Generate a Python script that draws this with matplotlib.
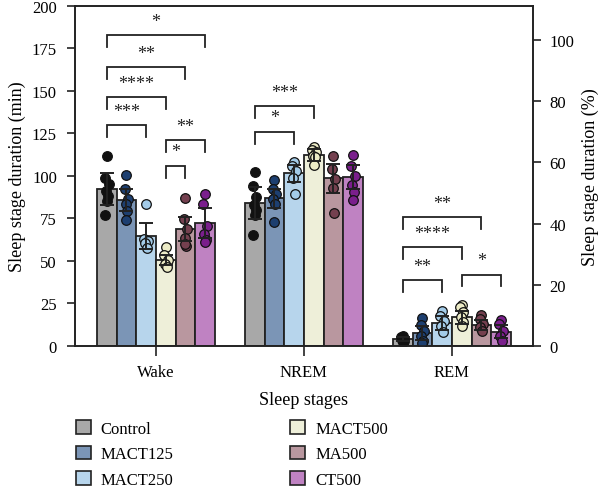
import matplotlib
matplotlib.use("Agg")
import matplotlib.pyplot as plt
from matplotlib.patches import Patch
import numpy as np

plt.rcParams['font.family'] = ['Liberation Serif', 'DejaVu Serif']

stages = ["Wake", "NREM", "REM"]
groups = ["Control", "MACT125", "MACT250", "MACT500", "MA500", "CT500"]

bar_colors = ["#a8a8a8", "#7b95b6", "#b7d5ec", "#eeefd9", "#b9979f", "#bf82c2"]
pt_colors = ["#111111", "#1d3f70", "#a3cbe8", "#ecebc6", "#74404f", "#7a1f8c"]

means = {
    "Wake": [92.4, 86.0, 64.7, 50.6, 68.8, 72.4],
    "NREM": [84.1, 87.0, 101.6, 112.4, 98.6, 99.6],
    "REM":  [4.1, 7.6, 13.5, 16.9, 12.4, 8.4],
}
sds = {
    "Wake": [9.2, 6.5, 7.5, 3.0, 7.0, 9.0],
    "NREM": [9.2, 5.6, 4.9, 3.5, 8.5, 7.1],
    "REM":  [1.2, 4.0, 4.0, 3.9, 3.0, 3.8],
}
points = {
    "Wake": [
        [112, 99, 95, 91, 88, 85, 77],
        [100.6, 92.4, 86.5, 83.5, 79.6, 74.3],
        [83.5, 63, 61.5, 60.4, 57.6],
        [58, 53.5, 50.4, 48.2, 46.5],
        [86.9, 74.7, 68.8, 63.4, 59, 60],
        [89.4, 83.5, 70.8, 65.9, 62.5, 61],
    ],
    "NREM": [
        [102.5, 93.9, 87.6, 82.9, 80.2, 77, 65.3],
        [97.8, 92.4, 89.4, 86.5, 83.5, 73.1],
        [108, 105.7, 103.1, 98.6, 89.4],
        [117, 115.3, 114, 112, 111, 106.5],
        [111.6, 104, 98, 92.7, 78.2],
        [112.4, 105.7, 100.2, 94.7, 90.8, 86.1],
    ],
    "REM": [
        [6, 5, 4, 3.5, 3, 2.5],
        [16.3, 12.4, 9, 6, 3.1, 1.8],
        [20.8, 17.8, 14.9, 11.9, 8],
        [24.1, 22.7, 19.8, 16.9, 13.9, 11.6],
        [18.2, 15.9, 12.9, 11, 9],
        [15.5, 12.9, 9, 6.1, 3.1],
    ],
}
# significance brackets: (stage, group_i, group_j, y, label)
brackets = [
    ("Wake", 0, 5, 183, "*"),
    ("Wake", 0, 4, 164, "**"),
    ("Wake", 0, 3, 146.5, "****"),
    ("Wake", 0, 2, 130, "***"),
    ("Wake", 3, 5, 121, "**"),
    ("Wake", 3, 4, 106, "*"),
    ("NREM", 0, 3, 141, "***"),
    ("NREM", 0, 2, 126, "*"),
    ("REM", 0, 4, 75.7, "**"),
    ("REM", 0, 3, 58, "****"),
    ("REM", 0, 2, 38.8, "**"),
    ("REM", 3, 5, 42, "*"),
]

fig = plt.figure(figsize=(6.0, 4.89), dpi=100)
ax = fig.add_axes([0.125, 0.2904, 0.763, 0.6953])

bw = 0.133
offs = (np.arange(len(groups)) - (len(groups) - 1) / 2) * bw
jit = np.array([0.0, -0.012, 0.012, -0.006, 0.006, 0.0, -0.01])

for si, st in enumerate(stages):
    for gi in range(len(groups)):
        x = si + offs[gi]
        ax.bar(x, means[st][gi], width=bw, color=bar_colors[gi], edgecolor="#222222",
               linewidth=1.3, zorder=2)
        p = points[st][gi]
        ax.scatter(x + jit[:len(p)], p, s=48, color=pt_colors[gi], edgecolor="#111111",
                   linewidth=0.9, zorder=3)
        ax.errorbar(x, means[st][gi], yerr=sds[st][gi], fmt="none", ecolor="#222222",
                    elinewidth=1.4, capsize=5, capthick=1.4, zorder=4)

tick_len = 7
for st, i, j, y, lab in brackets:
    si = stages.index(st)
    x1, x2 = si + offs[i], si + offs[j]
    ax.plot([x1, x1, x2, x2], [y - tick_len, y, y, y - tick_len], color="#222222",
            lw=1.3, zorder=5, solid_joinstyle="miter")
    ax.text((x1 + x2) / 2, y + 5.5, lab, ha="center", va="baseline", fontsize=13,
            color="#222222")

ax.set_xlim(-0.547, 2.547)
ax.set_ylim(0, 200)
ax.set_yticks(np.arange(0, 201, 25))
ax.set_xticks(range(len(stages)))
ax.set_xticklabels(stages)
ax.tick_params(axis="both", labelsize=12, length=6, width=1.2, color="#222222")
ax.tick_params(axis="y", pad=7)
ax.tick_params(axis="x", length=7, pad=6)
ax.set_xlabel("Sleep stages", fontsize=13, labelpad=8)
ax.set_ylabel("Sleep stage duration (min)", fontsize=13, labelpad=4)
for s in ax.spines.values():
    s.set_linewidth(1.2)
    s.set_color("#222222")

ax2 = ax.twinx()
ax2.set_ylim(0, 200 / 1.8)
ax2.set_yticks(np.arange(0, 101, 20))
ax2.tick_params(axis="y", labelsize=12, length=6, width=1.2, color="#222222", pad=6)
ax2.set_ylabel("Sleep stage duration (%)", fontsize=13, labelpad=5)
for s in ax2.spines.values():
    s.set_linewidth(1.2)
    s.set_color("#222222")

handles = [Patch(facecolor=c, edgecolor="#222222", linewidth=1.2) for c in bar_colors]
fig.legend(handles, groups, loc="upper left", bbox_to_anchor=(0.126, 0.139),
           ncol=2, frameon=False, fontsize=12, handlelength=0.9, handleheight=0.9,
           handletextpad=0.6, labelspacing=0.53, columnspacing=7.0,
           borderaxespad=0, borderpad=0)

fig.savefig("out.png", dpi=100)
